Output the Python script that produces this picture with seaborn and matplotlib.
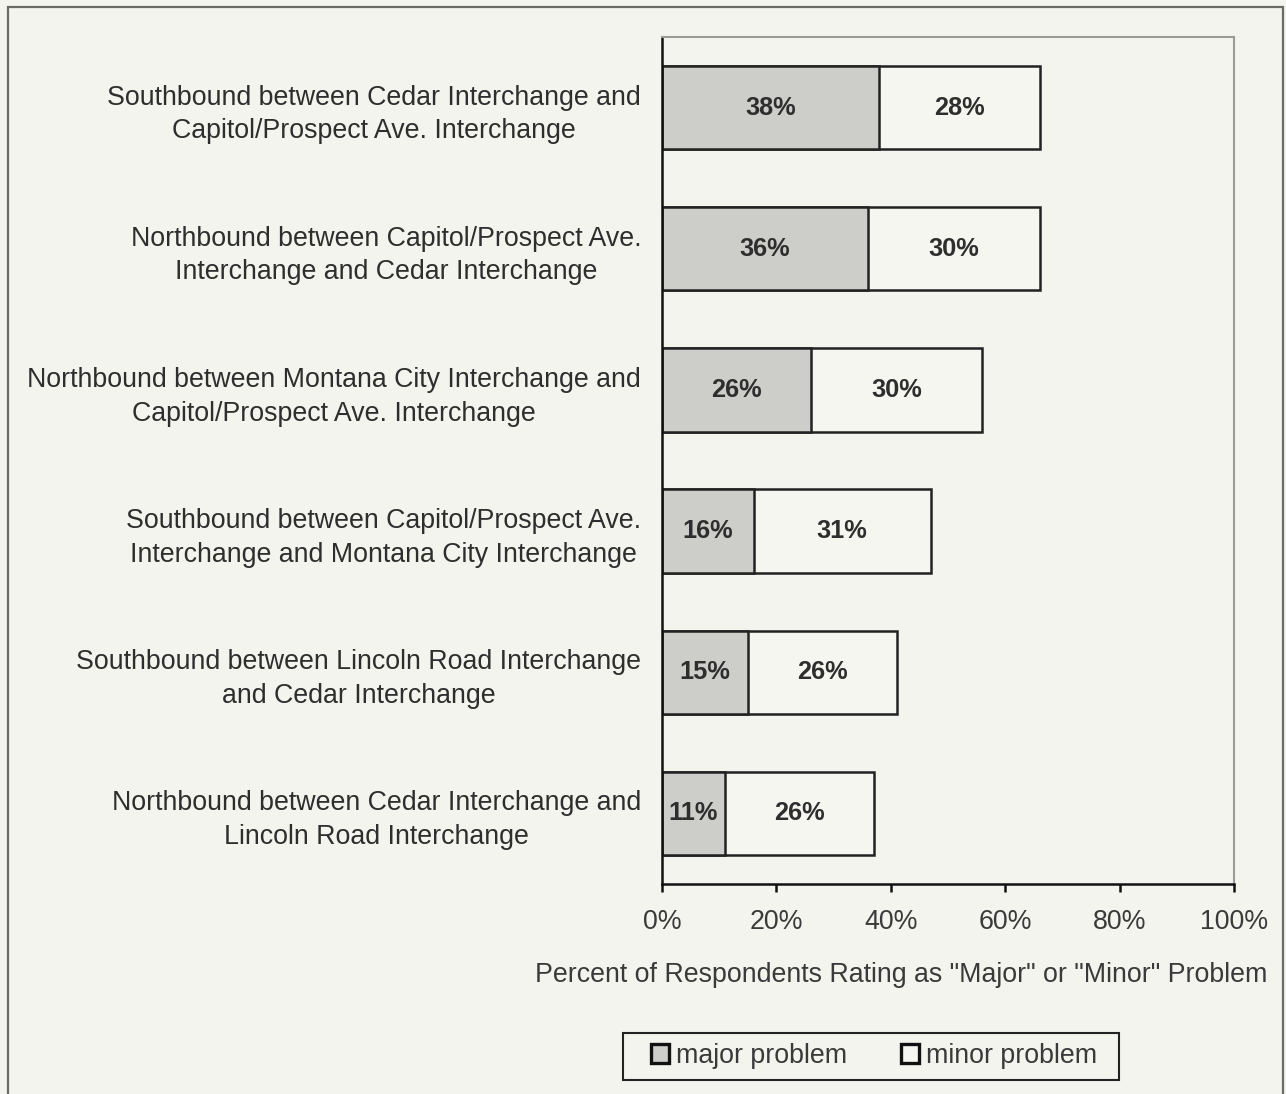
import matplotlib
matplotlib.use("Agg")
import matplotlib.pyplot as plt
from matplotlib.patches import Rectangle, Patch
import numpy as np
import pandas as pd
import seaborn as sns

segments = [
    "Southbound between Cedar Interchange and\nCapitol/Prospect Ave. Interchange",
    "Northbound between Capitol/Prospect Ave.\nInterchange and Cedar Interchange",
    "Northbound between Montana City Interchange and\nCapitol/Prospect Ave. Interchange",
    "Southbound between Capitol/Prospect Ave.\nInterchange and Montana City Interchange",
    "Southbound between Lincoln Road Interchange\nand Cedar Interchange",
    "Northbound between Cedar Interchange and\nLincoln Road Interchange",
]
major = [38, 36, 26, 16, 15, 11]
minor = [28, 30, 30, 31, 26, 26]
x_ticks = [0, 20, 40, 60, 80, 100]
x_label = 'Percent of Respondents Rating as "Major" or "Minor" Problem'
legend_labels = ["major problem", "minor problem"]

BG = "#f4f4ee"
MAJOR_C = "#cdcdc9"
MINOR_C = "#f6f6f1"
TEXT_C = "#2e2e2e"
FS = 19.3
W, H = 1286, 1094

sns.set_theme(style="white")
plt.rcParams["font.family"] = ["Liberation Sans", "DejaVu Sans"]

df = pd.DataFrame({"segment": segments, "major": major, "minor": minor})
df["total"] = df["major"] + df["minor"]

fig = plt.figure(figsize=(W / 100, H / 100), dpi=100, facecolor=BG)
ax = fig.add_axes([662 / W, 1 - 884 / H, (1234 - 662) / W, (884 - 37) / H])
ax.set_facecolor(BG)

# stacked horizontal bars: total first, major drawn over it
sns.barplot(data=df, y="segment", x="total", orient="h", color=MINOR_C,
            saturation=1, edgecolor="#222222", linewidth=1.8, width=0.59, ax=ax)
sns.barplot(data=df, y="segment", x="major", orient="h", color=MAJOR_C,
            saturation=1, edgecolor="#222222", linewidth=1.8, width=0.59, ax=ax)

for i, (mj, mn) in enumerate(zip(major, minor)):
    ax.text(mj / 2, i, f"{mj}%", ha="center", va="center", fontsize=18.3,
            fontweight="bold", color=TEXT_C)
    ax.text(mj + mn / 2, i, f"{mn}%", ha="center", va="center", fontsize=18.3,
            fontweight="bold", color=TEXT_C)

ax.set_xlim(0, 100)
ax.set_ylim(len(segments) - 0.5, -0.5)
ax.set_xticks(x_ticks)
ax.set_xticklabels([f"{t}%" for t in x_ticks], fontsize=FS, color="#3a3a3a")
ax.set_yticks(range(len(segments)))
ax.set_yticklabels(segments, fontsize=FS, color=TEXT_C, multialignment="center",
                   linespacing=1.38)
ax.tick_params(axis="y", which="major", length=0, pad=15)
ax.set_yticks(np.arange(-0.5, len(segments), 1.0), minor=True)
ax.tick_params(axis="y", which="minor", length=6, width=1.8, color="#111111", direction="out")
ax.tick_params(axis="x", which="major", length=6, width=1.8, color="#111111",
               direction="out", pad=12, bottom=True)
ax.set_xlabel("")
ax.set_ylabel("")

for side in ("left", "bottom"):
    ax.spines[side].set_color("#111111")
    ax.spines[side].set_linewidth(1.8)
for side in ("top", "right"):
    ax.spines[side].set_visible(True)
    ax.spines[side].set_color("#9a9a96")
    ax.spines[side].set_linewidth(1.5)

fig.text(901 / W, 1 - 975 / H, x_label, ha="center", va="center",
         fontsize=FS, color="#3a3a3a")

# legend entries, with a separate box drawn around them
handles = [Patch(facecolor=MAJOR_C, edgecolor="#111111", linewidth=2.4),
           Patch(facecolor=MINOR_C, edgecolor="#111111", linewidth=2.4)]
fig.patches.append(Rectangle((623 / W, 1 - 1080 / H), (1119 - 623) / W, 47 / H,
                             transform=fig.transFigure, facecolor=BG,
                             edgecolor="#222222", linewidth=1.5, zorder=1))
fig.legend(handles, legend_labels, ncol=2, loc="center",
           bbox_to_anchor=(874 / W, 1 - 1056 / H), fontsize=FS,
           frameon=False, handlelength=0.68, handleheight=0.68, handletextpad=0.25,
           columnspacing=2.0, borderpad=0.3, labelcolor="#3a3a3a")

# outer chart frame
fig.patches.append(Rectangle((8 / W, -0.05), (1283 - 8) / W, 1.05 - 7 / H,
                             transform=fig.transFigure, fill=False,
                             edgecolor="#6a6a66", linewidth=1.6))

fig.savefig("out.png", dpi=100, facecolor=BG)
